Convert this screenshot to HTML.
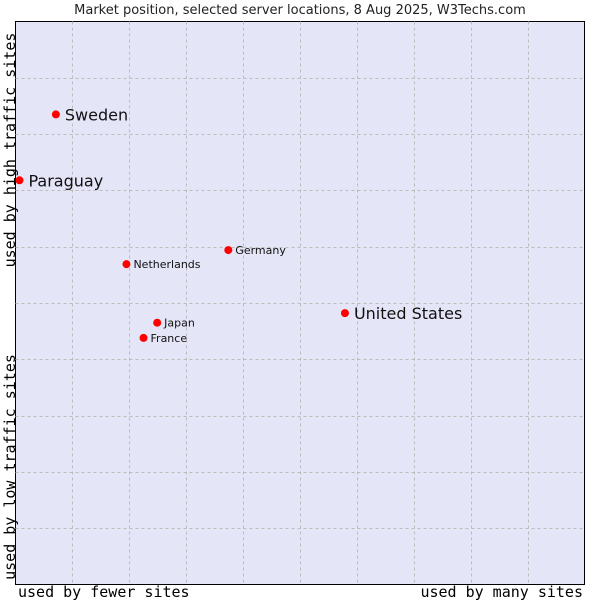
<!DOCTYPE html>
<html><head><meta charset="utf-8"><style>
body{margin:0;background:#fff;}
svg{display:block;}
</style></head><body>
<svg width="600" height="600" xmlns="http://www.w3.org/2000/svg">
<text x="300" y="14" text-anchor="middle" font-family="DejaVu Sans, sans-serif" font-size="13" fill="#222">Market position, selected server locations, 8 Aug 2025, W3Techs.com</text>
<rect x="15.5" y="21.5" width="569" height="563" fill="#e4e6f8" stroke="#000" stroke-width="1"/>
<g id="grid"></g>
<g id="pts"></g>
<text x="10" y="150" transform="rotate(-90 10 150)" text-anchor="middle" font-family="DejaVu Sans Mono, monospace" font-size="15" fill="#000" dy="5">used by high traffic sites</text>
<text x="10" y="467" transform="rotate(-90 10 467)" text-anchor="middle" font-family="DejaVu Sans Mono, monospace" font-size="15" fill="#000" dy="5">used by low traffic sites</text>
<text x="18" y="597" font-family="DejaVu Sans Mono, monospace" font-size="15" fill="#000">used by fewer sites</text>
<text x="583" y="597" text-anchor="end" font-family="DejaVu Sans Mono, monospace" font-size="15" fill="#000">used by many sites</text>
</svg>
<script>
const names = ["Sweden","Paraguay","Netherlands","Germany","United States","Japan","France"];
const xVals = [7.1,0.7,19.5,37.4,57.9,24.9,22.5];
const yVals = [83.5,71.8,56.9,59.4,48.2,46.5,43.8];
const bigLabel = [true,true,false,false,true,false,false];
const NS="http://www.w3.org/2000/svg";
const X0=15.5,X1=584.5,Y0=584.5,Y1=21.5;
function sx(v){return X0+(X1-X0)*v/100;}
function sy(v){return Y0-(Y0-Y1)*v/100;}
const grid=document.getElementById('grid');
for(let i=1;i<10;i++){
  const v=document.createElementNS(NS,'line');
  
  
  v.setAttribute('x1',Math.round(sx(i*10))+0.5);v.setAttribute('x2',Math.round(sx(i*10))+0.5);
  v.setAttribute('y1',Y1);v.setAttribute('y2',Y0);
  v.setAttribute('stroke','#bbb');v.setAttribute('stroke-dasharray','3,3');
  grid.appendChild(v);
  const h=document.createElementNS(NS,'line');
  
  
  h.setAttribute('y1',Math.round(sy(i*10))+0.5);h.setAttribute('y2',Math.round(sy(i*10))+0.5);
  h.setAttribute('x1',X0);h.setAttribute('x2',X1);
  h.setAttribute('stroke','#bbb');h.setAttribute('stroke-dasharray','3,3');
  grid.appendChild(h);
}
const pts=document.getElementById('pts');
names.forEach((n,i)=>{
  const x=sx(xVals[i]),y=sy(yVals[i]);
  const c=document.createElementNS(NS,'circle');
  
  
  c.setAttribute('cx',x);c.setAttribute('cy',y);c.setAttribute('r',4);c.setAttribute('fill','#f00');
  pts.appendChild(c);
  const t=document.createElementNS(NS,'text');
  
  
  const big=bigLabel[i];
  t.setAttribute('x',x+(big?9:7));t.setAttribute('y',y+(big?6:4));
  t.setAttribute('font-family','DejaVu Sans, sans-serif');
  t.setAttribute('font-size',big?16:11);t.setAttribute('fill','#111');
  t.textContent=n;
  pts.appendChild(t);
});
</script>
</body></html>
